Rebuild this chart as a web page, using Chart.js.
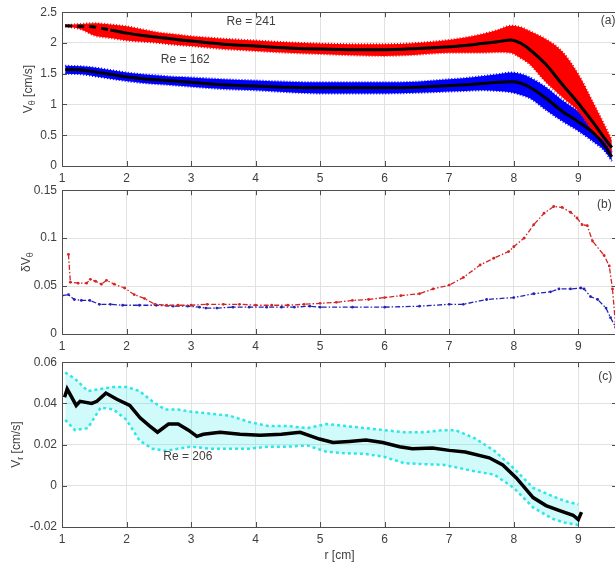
<!DOCTYPE html>
<html>
<head>
<meta charset="utf-8">
<script src="https://cdn.jsdelivr.net/npm/chart.js@4.4.1/dist/chart.umd.min.js"></script>
<style>
  html, body { margin: 0; padding: 0; background: #fff; }
  #wrap { position: relative; width: 615px; height: 567px; overflow: hidden; background: #fff; }
  #wrap canvas { position: absolute; left: 0; }
</style>
</head>
<body>
<div id="wrap">
  <canvas id="panelA" width="640" height="190" style="top:0px"></canvas>
  <canvas id="panelB" width="640" height="178" style="top:178px"></canvas>
  <canvas id="panelC" width="640" height="217" style="top:350px"></canvas>
</div>
<script>
// radius axis, shared by all three panels
const rTicks = [1, 2, 3, 4, 5, 6, 7, 8, 9];

// (a) azimuthal velocity, mean curve and spread of the samples
const rA = [1.05, 1.3, 1.5, 1.75, 2, 2.25, 2.5, 2.75, 3, 3.5, 4, 4.5, 5, 5.5, 6, 6.5, 7, 7.25, 7.5, 7.75, 7.95, 8.1, 8.25, 8.5, 8.75, 9, 9.25, 9.4, 9.52];
const vMean241 = [2.28, 2.27, 2.26, 2.21, 2.16, 2.12, 2.09, 2.06, 2.03, 1.98, 1.95, 1.92, 1.9, 1.89, 1.89, 1.91, 1.94, 1.96, 1.99, 2.02, 2.05, 2.0, 1.89, 1.65, 1.33, 1.02, 0.68, 0.46, 0.3];
const vHigh241 = [2.29, 2.31, 2.32, 2.3, 2.27, 2.22, 2.17, 2.14, 2.11, 2.07, 2.04, 2.01, 1.99, 1.98, 1.98, 2.0, 2.05, 2.09, 2.14, 2.21, 2.28, 2.26, 2.19, 2.06, 1.86, 1.49, 0.99, 0.68, 0.42];
const vLow241 = [2.27, 2.22, 2.12, 2.08, 2.04, 2.02, 2.0, 1.97, 1.95, 1.9, 1.87, 1.84, 1.82, 1.8, 1.79, 1.81, 1.84, 1.84, 1.84, 1.85, 1.84, 1.76, 1.65, 1.36, 1.12, 0.89, 0.54, 0.41, 0.22];
const vMean162 = [1.57, 1.56, 1.53, 1.49, 1.45, 1.42, 1.4, 1.38, 1.36, 1.32, 1.3, 1.28, 1.27, 1.27, 1.27, 1.28, 1.31, 1.32, 1.34, 1.36, 1.37, 1.35, 1.28, 1.1, 0.89, 0.72, 0.52, 0.34, 0.15];
const vHigh162 = [1.63, 1.62, 1.6, 1.56, 1.52, 1.49, 1.47, 1.45, 1.44, 1.41, 1.39, 1.37, 1.36, 1.36, 1.36, 1.37, 1.41, 1.43, 1.46, 1.49, 1.52, 1.5, 1.44, 1.28, 1.07, 0.89, 0.68, 0.45, 0.24];
const vLow162 = [1.5, 1.49, 1.46, 1.42, 1.38, 1.35, 1.33, 1.31, 1.29, 1.25, 1.23, 1.2, 1.18, 1.18, 1.18, 1.19, 1.21, 1.22, 1.23, 1.22, 1.2, 1.16, 1.1, 0.91, 0.73, 0.57, 0.38, 0.25, 0.08];
const vTicks = [0, 0.5, 1, 1.5, 2, 2.5];

// (b) fluctuation level
const rB241 = [1.1, 1.13, 1.25, 1.38, 1.44, 1.52, 1.61, 1.69, 1.81, 1.97, 2.12, 2.28, 2.44, 2.62, 2.8, 3, 3.25, 3.5, 3.75, 4, 4.25, 4.5, 4.75, 5, 5.25, 5.5, 5.75, 6, 6.25, 6.54, 6.75, 7, 7.22, 7.48, 7.69, 7.92, 8, 8.16, 8.31, 8.47, 8.62, 8.75, 8.88, 8.98, 9.06, 9.14, 9.22, 9.4, 9.48, 9.53, 9.58];
const dV241 = [0.083, 0.054, 0.053, 0.053, 0.057, 0.055, 0.052, 0.056, 0.052, 0.048, 0.041, 0.037, 0.031, 0.03, 0.03, 0.03, 0.031, 0.031, 0.031, 0.03, 0.03, 0.03, 0.031, 0.032, 0.033, 0.035, 0.036, 0.038, 0.04, 0.042, 0.047, 0.051, 0.059, 0.072, 0.079, 0.086, 0.091, 0.1, 0.114, 0.126, 0.133, 0.132, 0.127, 0.121, 0.114, 0.113, 0.097, 0.082, 0.071, 0.047, 0.007];
const rB162 = [1.0, 1.1, 1.19, 1.3, 1.43, 1.58, 1.75, 1.94, 2.2, 2.46, 2.72, 2.95, 3.13, 3.23, 3.4, 3.65, 3.9, 4.17, 4.4, 4.6, 4.84, 5, 5.5, 6, 6.54, 7, 7.22, 7.58, 8, 8.31, 8.57, 8.7, 8.88, 9.04, 9.09, 9.19, 9.3, 9.43, 9.5, 9.58];
const dV162 = [0.04, 0.041, 0.036, 0.035, 0.035, 0.031, 0.031, 0.03, 0.03, 0.03, 0.029, 0.029, 0.028, 0.027, 0.027, 0.028, 0.028, 0.028, 0.028, 0.028, 0.029, 0.028, 0.028, 0.028, 0.029, 0.031, 0.031, 0.036, 0.038, 0.042, 0.044, 0.047, 0.047, 0.048, 0.047, 0.039, 0.036, 0.027, 0.017, 0.007];
const dvTicks = [0, 0.05, 0.1, 0.15];

// (c) radial velocity
const rC = [1.04, 1.08, 1.22, 1.28, 1.46, 1.54, 1.68, 1.85, 2.05, 2.21, 2.36, 2.48, 2.65, 2.8, 2.96, 3.09, 3.19, 3.45, 3.76, 4.07, 4.4, 4.69, 4.99, 5.2, 5.45, 5.71, 5.97, 6.23, 6.43, 6.74, 7.0, 7.25, 7.62, 7.83, 8.04, 8.3, 8.5, 8.71, 8.92, 9.0, 9.05];
const vrMean = [0.043, 0.047, 0.039, 0.041, 0.04, 0.041, 0.045, 0.042, 0.039, 0.033, 0.029, 0.026, 0.03, 0.03, 0.027, 0.024, 0.025, 0.026, 0.025, 0.0245, 0.025, 0.026, 0.0227, 0.021, 0.0215, 0.0222, 0.021, 0.019, 0.018, 0.0183, 0.0172, 0.0164, 0.0136, 0.0101, 0.0038, -0.0057, -0.0096, -0.012, -0.0143, -0.0164, -0.0128];
const rSpread = [1.05, 1.2, 1.4, 1.6, 1.8, 2.0, 2.2, 2.4, 2.6, 2.8, 3.0, 3.3, 3.6, 3.9, 4.2, 4.5, 4.8, 5.1, 5.4, 5.7, 6.0, 6.3, 6.6, 6.9, 7.1, 7.4, 7.7, 8.0, 8.3, 8.6, 8.8, 9.0];
const vrHigh = [0.055, 0.052, 0.046, 0.047, 0.048, 0.048, 0.046, 0.041, 0.037, 0.037, 0.036, 0.035, 0.034, 0.031, 0.029, 0.029, 0.028, 0.03, 0.029, 0.028, 0.027, 0.026, 0.026, 0.027, 0.027, 0.023, 0.017, 0.0085, -0.001, -0.005, -0.0075, -0.009];
const vrLow = [0.032, 0.027, 0.028, 0.038, 0.037, 0.032, 0.022, 0.018, 0.017, 0.018, 0.019, 0.018, 0.018, 0.018, 0.019, 0.019, 0.0196, 0.0165, 0.0158, 0.0155, 0.014, 0.011, 0.0105, 0.0102, 0.009, 0.007, 0.0054, -0.001, -0.0105, -0.016, -0.018, -0.019];
const vrTicks = [-0.02, 0, 0.02, 0.04, 0.06];

const FONT = '"Liberation Sans", Arial, Helvetica, sans-serif';
const TEXT = '#404040';

const pts = (xs, ys) => xs.map((x, i) => ({ x: x, y: ys[i] }));

// box, inward ticks, axis titles with subscripts and text notes
const framePlugin = {
  id: 'frame',
  afterDraw(chart, args, opts) {
    const { ctx, chartArea: a, scales: { x, y } } = chart;
    ctx.save();
    ctx.strokeStyle = '#4d4d4d';
    ctx.lineWidth = 1;
    ctx.beginPath();
    x.ticks.forEach(t => {
      const px = Math.round(x.getPixelForValue(t.value)) + 0.5;
      ctx.moveTo(px, a.bottom); ctx.lineTo(px, a.bottom - 5);
      ctx.moveTo(px, a.top); ctx.lineTo(px, a.top + 5);
    });
    y.ticks.forEach(t => {
      const py = Math.round(y.getPixelForValue(t.value)) + 0.5;
      ctx.moveTo(a.left, py); ctx.lineTo(a.left + 5, py);
      ctx.moveTo(a.right, py); ctx.lineTo(a.right - 5, py);
    });
    ctx.stroke();
    ctx.strokeRect(Math.round(a.left) + 0.5, Math.round(a.top) + 0.5, Math.round(a.width), Math.round(a.height));

    ctx.fillStyle = TEXT;
    ctx.textBaseline = 'middle';

    // y title: main part, subscript, rest
    const t = opts.yTitle;
    ctx.save();
    ctx.translate(t.x, (a.top + a.bottom) / 2);
    ctx.rotate(-Math.PI / 2);
    const big = '12px ' + FONT, small = '9px ' + FONT;
    ctx.font = big;
    const w1 = ctx.measureText(t.main).width;
    const w3 = ctx.measureText(t.rest).width;
    ctx.font = small;
    const w2 = ctx.measureText(t.sub).width;
    let cx = -(w1 + w2 + w3) / 2;
    ctx.textAlign = 'left';
    ctx.font = big;
    ctx.fillText(t.main, cx, 0);
    cx += w1;
    ctx.font = small;
    ctx.fillText(t.sub, cx, 4);
    cx += w2;
    ctx.font = big;
    ctx.fillText(t.rest, cx, 0);
    ctx.restore();

    if (opts.xTitle) {
      ctx.font = '12px ' + FONT;
      ctx.textAlign = 'center';
      ctx.fillText(opts.xTitle, (a.left + a.right) / 2, a.bottom + 29);
    }

    ctx.font = '12px ' + FONT;
    (opts.notes || []).forEach(n => {
      ctx.textAlign = n.align || 'center';
      ctx.fillText(n.text, x.getPixelForValue(n.x), y.getPixelForValue(n.y));
    });
    ctx.restore();
  }
};

function makePanel(id, datasets, yMin, yMax, yTickList, xAxisHeight, frame) {
  return new Chart(document.getElementById(id), {
    type: 'line',
    data: { datasets: datasets },
    options: {
      responsive: false,
      animation: false,
      layout: { padding: { left: 0, right: 23, top: 8, bottom: 0 } },
      plugins: { legend: { display: false }, tooltip: { enabled: false }, frame: frame },
      elements: { point: { radius: 0 } },
      scales: {
        x: {
          type: 'linear', min: 1, max: 9.6,
          afterBuildTicks: s => { s.ticks = rTicks.map(v => ({ value: v })); },
          afterFit: s => { s.height = xAxisHeight; },
          grid: { color: '#e2e2e2', drawTicks: false },
          border: { display: false },
          ticks: { padding: 5, color: TEXT, font: { family: FONT, size: 12 }, callback: v => String(v), maxRotation: 0 }
        },
        y: {
          type: 'linear', min: yMin, max: yMax,
          afterBuildTicks: s => { s.ticks = yTickList.map(v => ({ value: v })); },
          afterFit: s => { s.width = 62; },
          grid: { color: '#e2e2e2', drawTicks: false },
          border: { display: false },
          ticks: { padding: 5, color: TEXT, font: { family: FONT, size: 12 }, callback: v => String(v) }
        }
      }
    },
    plugins: [framePlugin]
  });
}

// (a)
makePanel('panelA', [
  { data: pts(rA, vMean241), borderColor: '#000', borderWidth: 3, cubicInterpolationMode: 'monotone', order: 0,
    segment: { borderDash: c => c.p0.parsed.x < 1.7 ? [7, 5] : undefined } },
  { data: pts(rA, vMean162), borderColor: '#000', borderWidth: 3, cubicInterpolationMode: 'monotone', order: 0 },
  { data: pts(rA, vHigh241), borderColor: '#ff0000', borderWidth: 2, borderDash: [1, 2], backgroundColor: '#ff0000',
    fill: '+1', cubicInterpolationMode: 'monotone', order: 1 },
  { data: pts(rA, vLow241), borderColor: '#ff0000', borderWidth: 2, borderDash: [1, 2], fill: false,
    cubicInterpolationMode: 'monotone', order: 1 },
  { data: pts(rA, vHigh162), borderColor: '#0000ff', borderWidth: 2, borderDash: [1, 2], backgroundColor: '#0000ff',
    fill: '+1', cubicInterpolationMode: 'monotone', order: 2 },
  { data: pts(rA, vLow162), borderColor: '#0000ff', borderWidth: 2, borderDash: [1, 2], fill: false,
    cubicInterpolationMode: 'monotone', order: 2 }
], 0, 2.5, vTicks, 24, {
  yTitle: { x: 29, main: 'V', sub: 'θ', rest: ' [cm/s]' },
  notes: [
    { text: 'Re = 241', x: 3.93, y: 2.34 },
    { text: 'Re = 162', x: 2.91, y: 1.72 },
    { text: '(a)', x: 9.35, y: 2.36, align: 'left' }
  ]
});

// (b)
makePanel('panelB', [
  { data: pts(rB241, dV241), borderColor: '#d42424', borderWidth: 1.3, borderDash: [5, 2, 1.5, 2],
    pointRadius: 1.4, pointBackgroundColor: '#d42424', pointBorderWidth: 0 },
  { data: pts(rB162, dV162), borderColor: '#2222b8', borderWidth: 1.3, borderDash: [5, 2, 1.5, 2],
    pointRadius: 1.4, pointBackgroundColor: '#2222b8', pointBorderWidth: 0 }
], 0, 0.15, dvTicks, 22, {
  yTitle: { x: 27, main: 'δV', sub: 'θ', rest: '' },
  notes: [{ text: '(b)', x: 9.29, y: 0.135, align: 'left' }]
});

// (c)
makePanel('panelC', [
  { data: pts(rC, vrMean), borderColor: '#000', borderWidth: 3.5, order: 0 },
  { data: pts(rSpread, vrHigh), borderColor: '#2ee6e6', borderWidth: 2.5, borderDash: [3, 3],
    backgroundColor: 'rgba(46, 230, 230, 0.22)', fill: '+1', order: 1 },
  { data: pts(rSpread, vrLow), borderColor: '#2ee6e6', borderWidth: 2.5, borderDash: [3, 3], fill: false, order: 1 }
], -0.02, 0.06, vrTicks, 40, {
  yTitle: { x: 17, main: 'V', sub: 'r', rest: ' [cm/s]' },
  xTitle: 'r [cm]',
  notes: [
    { text: 'Re = 206', x: 2.95, y: 0.014 },
    { text: '(c)', x: 9.31, y: 0.0529, align: 'left' }
  ]
});
</script>
</body>
</html>
